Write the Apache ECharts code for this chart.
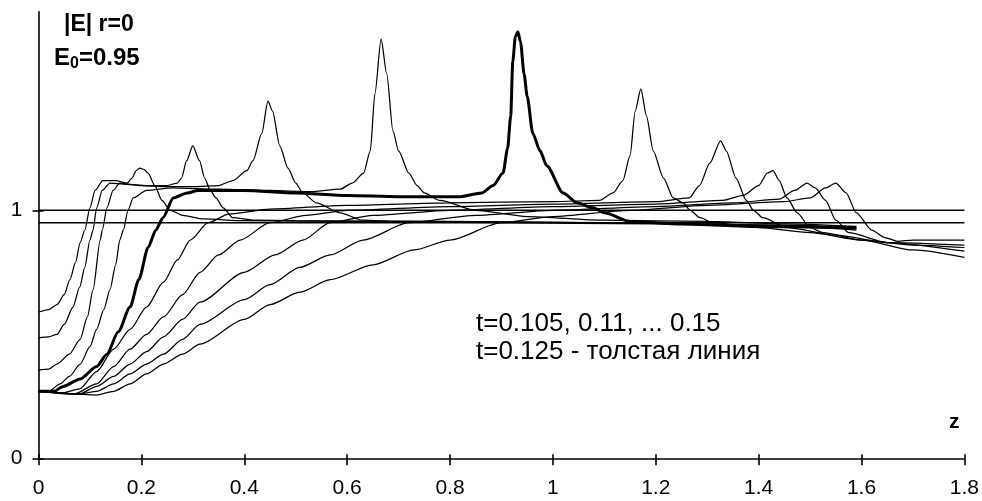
<!DOCTYPE html>
<html>
<head>
<meta charset="utf-8">
<script src="https://cdn.jsdelivr.net/npm/echarts@6/dist/echarts.min.js"></script>
<style>html,body{margin:0;padding:0;background:#fff}#c{width:982px;height:501px}</style>
</head>
<body>
<div id="c"></div>
<script>
// ---- data ----
const xTicks = [0, 0.2, 0.4, 0.6, 0.8, 1, 1.2, 1.4, 1.6, 1.8];
const yTicks = [0, 1];
const tValues = [0.105, 0.11, 0.115, 0.12, 0.125, 0.13, 0.135, 0.14, 0.145, 0.15];
const refLevels = [1, 0.95];

const curveA = [[0,0.59],[0.02,0.60],[0.036,0.62],[0.05,0.66],[0.061,0.72],[0.072,0.79],[0.081,0.87],[0.09,0.92],[0.1,1.01],[0.11,1.08],[0.125,1.12],[0.15,1.12],[0.172,1.11],[0.182,1.13],[0.19,1.16],[0.197,1.17],[0.205,1.165],[0.213,1.15],[0.226,1.10],[0.24,1.04],[0.256,1.0],[0.28,0.98],[0.32,0.965],[0.4,0.958],[0.6,0.955],[0.9,0.95],[1.2,0.945],[1.45,0.935],[1.59,0.92]];
const curveB = [[0,0.486],[0.02,0.49],[0.036,0.50],[0.05,0.54],[0.067,0.61],[0.08,0.69],[0.09,0.77],[0.1,0.88],[0.106,0.92],[0.113,1.01],[0.124,1.08],[0.139,1.11],[0.17,1.105],[0.21,1.10],[0.25,1.10],[0.27,1.11],[0.278,1.13],[0.288,1.20],[0.30,1.26],[0.313,1.20],[0.323,1.13],[0.334,1.08],[0.345,1.05],[0.359,1.01],[0.378,0.97],[0.42,0.96],[0.5,0.958],[0.8,0.955],[1.1,0.95],[1.4,0.94],[1.59,0.925]];
const curveC = [[0,0.356],[0.02,0.36],[0.036,0.38],[0.06,0.42],[0.081,0.48],[0.095,0.57],[0.106,0.68],[0.12,0.88],[0.124,0.92],[0.133,1.01],[0.145,1.08],[0.158,1.11],[0.2,1.10],[0.25,1.095],[0.3,1.095],[0.35,1.10],[0.378,1.12],[0.405,1.16],[0.417,1.20],[0.434,1.31],[0.446,1.44],[0.455,1.40],[0.469,1.26],[0.485,1.17],[0.5,1.11],[0.514,1.07],[0.54,1.03],[0.586,0.99],[0.63,0.96],[0.7,0.955],[0.9,0.953],[1.2,0.948],[1.45,0.94],[1.59,0.93]];
const curveD = [[0,0.27],[0.02,0.27],[0.042,0.30],[0.06,0.33],[0.081,0.38],[0.1,0.45],[0.113,0.52],[0.127,0.60],[0.139,0.68],[0.15,0.78],[0.158,0.88],[0.165,0.92],[0.174,1.0],[0.184,1.05],[0.21,1.08],[0.26,1.09],[0.35,1.085],[0.45,1.08],[0.53,1.075],[0.586,1.085],[0.61,1.11],[0.632,1.15],[0.645,1.24],[0.654,1.47],[0.666,1.69],[0.677,1.55],[0.689,1.32],[0.70,1.24],[0.72,1.15],[0.736,1.10],[0.75,1.07],[0.78,1.04],[0.85,1.0],[0.95,0.975],[1.1,0.96],[1.3,0.955],[1.45,0.945],[1.59,0.935]];
const curveE = [[0,0.27],[0.03,0.27],[0.048,0.29],[0.081,0.32],[0.113,0.37],[0.133,0.42],[0.155,0.51],[0.178,0.61],[0.195,0.72],[0.213,0.85],[0.228,0.92],[0.242,0.97],[0.262,1.05],[0.289,1.07],[0.31,1.08],[0.4,1.08],[0.5,1.07],[0.6,1.06],[0.7,1.055],[0.82,1.055],[0.862,1.07],[0.884,1.10],[0.903,1.15],[0.912,1.25],[0.918,1.38],[0.922,1.60],[0.927,1.70],[0.932,1.72],[0.937,1.68],[0.944,1.55],[0.95,1.46],[0.961,1.31],[0.975,1.24],[0.988,1.18],[1.02,1.07],[1.047,1.03],[1.078,1.01],[1.1,0.99],[1.15,0.955],[1.25,0.945],[1.4,0.935],[1.59,0.93]];
const curveF = [[0,0.27],[0.05,0.265],[0.08,0.28],[0.113,0.35],[0.146,0.44],[0.178,0.52],[0.21,0.61],[0.243,0.71],[0.27,0.80],[0.295,0.88],[0.33,0.95],[0.37,0.985],[0.45,1.005],[0.6,1.02],[0.8,1.03],[1.0,1.035],[1.09,1.04],[1.117,1.07],[1.136,1.12],[1.15,1.22],[1.16,1.40],[1.171,1.49],[1.182,1.38],[1.195,1.24],[1.215,1.13],[1.234,1.05],[1.253,1.03],[1.267,1.0],[1.286,0.97],[1.311,0.95],[1.4,0.93],[1.5,0.91],[1.6,0.88],[1.7,0.84],[1.8,0.81]];
const curveG = [[0,0.27],[0.07,0.26],[0.113,0.30],[0.146,0.37],[0.178,0.44],[0.21,0.50],[0.243,0.57],[0.28,0.66],[0.314,0.75],[0.35,0.82],[0.392,0.88],[0.45,0.95],[0.52,0.98],[0.6,1.0],[0.8,1.015],[1.0,1.025],[1.2,1.035],[1.265,1.05],[1.285,1.10],[1.305,1.19],[1.326,1.28],[1.337,1.24],[1.356,1.13],[1.376,1.04],[1.39,1.0],[1.408,0.97],[1.455,0.93],[1.55,0.90],[1.65,0.87],[1.8,0.835]];
const curveH = [[0,0.27],[0.08,0.26],[0.113,0.29],[0.146,0.33],[0.178,0.38],[0.21,0.43],[0.243,0.49],[0.28,0.56],[0.314,0.63],[0.4,0.75],[0.46,0.82],[0.514,0.88],[0.567,0.95],[0.65,0.98],[0.8,1.0],[1.0,1.015],[1.2,1.025],[1.33,1.04],[1.37,1.06],[1.40,1.10],[1.417,1.15],[1.428,1.16],[1.44,1.12],[1.455,1.05],[1.475,0.99],[1.5,0.93],[1.525,0.91],[1.6,0.88],[1.7,0.86],[1.8,0.85]];
const curveI = [[0,0.27],[0.08,0.26],[0.113,0.27],[0.146,0.30],[0.178,0.34],[0.21,0.38],[0.243,0.42],[0.28,0.48],[0.314,0.54],[0.4,0.64],[0.45,0.70],[0.508,0.77],[0.567,0.82],[0.631,0.88],[0.72,0.95],[0.85,0.98],[1.0,1.0],[1.2,1.015],[1.35,1.03],[1.44,1.045],[1.47,1.08],[1.494,1.11],[1.51,1.09],[1.53,1.04],[1.55,0.96],[1.575,0.91],[1.65,0.87],[1.8,0.86]];
const curveJ = [[0,0.27],[0.06,0.26],[0.113,0.255],[0.146,0.27],[0.178,0.30],[0.21,0.34],[0.243,0.38],[0.28,0.42],[0.314,0.46],[0.4,0.56],[0.45,0.62],[0.508,0.67],[0.567,0.72],[0.65,0.78],[0.73,0.84],[0.80,0.88],[0.9,0.95],[1.0,0.975],[1.15,1.0],[1.3,1.02],[1.45,1.035],[1.5,1.05],[1.53,1.09],[1.55,1.11],[1.57,1.07],[1.59,0.99],[1.62,0.92],[1.645,0.89],[1.67,0.875],[1.7,0.88],[1.8,0.88]];

const curves = [curveA, curveB, curveC, curveD, curveE, curveF, curveG, curveH, curveI, curveJ];
const thickT = 0.125;

// ---- chart ----
const FONT = '"Liberation Sans", Arial, sans-serif';
const chart = echarts.init(document.getElementById('c'), null, {renderer: 'canvas'});

const series = curves.map((d, i) => ({
  type: 'line',
  name: 't=' + tValues[i],
  data: d,
  showSymbol: false,
  smooth: 0.25,
  smoothMonotone: 'x',
  lineStyle: {color: '#000', width: tValues[i] === thickT ? 3 : 1.25},
  z: tValues[i] === thickT ? 5 : 3,
  silent: true
}));
refLevels.forEach(v => {
  series.push({
    type: 'line',
    data: [[xTicks[0], v], [xTicks[xTicks.length - 1], v]],
    showSymbol: false,
    lineStyle: {color: '#000', width: 1.6},
    z: 4,
    silent: true
  });
});

const grid = {left: 38.5, right: 17.5, top: 11.9, bottom: 42.7};

chart.setOption({
  animation: false,
  backgroundColor: '#fff',
  grid: grid,
  xAxis: [{
    type: 'value', min: 0, max: 1.8, interval: 0.2,
    axisLine: {lineStyle: {color: '#000', width: 1.6}},
    axisTick: {length: 7, lineStyle: {color: '#000', width: 1.6}},
    axisLabel: {color: '#000', fontSize: 21, fontFamily: FONT, margin: 19},
    splitLine: {show: false}
  }, {
    type: 'value', min: 0, max: 1.8, interval: 0.2, position: 'bottom', offset: 0,
    axisLine: {show: false},
    axisTick: {inside: true, length: 4, lineStyle: {color: '#000', width: 1.6}},
    axisLabel: {show: false},
    splitLine: {show: false}
  }],
  yAxis: [{
    type: 'value', min: 0, max: 1.8,
    axisLine: {show: true, lineStyle: {color: '#000', width: 1.6}},
    axisTick: {show: true, length: 6, customValues: yTicks, lineStyle: {color: '#000', width: 1.6}},
    axisLabel: {color: '#000', fontSize: 21, fontFamily: FONT, margin: 16, customValues: yTicks},
    splitLine: {show: false}
  }, {
    type: 'value', min: 0, max: 1.8, position: 'left', offset: 0,
    axisLine: {show: false},
    axisTick: {show: true, inside: true, length: 5, customValues: yTicks, lineStyle: {color: '#000', width: 1.6}},
    axisLabel: {show: false},
    splitLine: {show: false}
  }],
  series: series,
  graphic: [
    {type: 'text', left: 64, top: 13, style: {text: '|E| r=0', font: 'bold 23px ' + FONT, fill: '#000'}},
    {type: 'text', left: 54, top: 46, style: {
      text: '{a|E}{s|0}{a|=0.95}',
      rich: {
        a: {font: 'bold 24px ' + FONT, fill: '#000'},
        s: {font: 'bold 16px ' + FONT, fill: '#000', padding: [12, 0, 0, 0]}
      }
    }},
    {type: 'text', left: 476, top: 311, style: {text: 't=0.105, 0.11, ... 0.15', font: '26px ' + FONT, fill: '#000'}},
    {type: 'text', left: 476, top: 339, style: {text: 't=0.125 - толстая линия', font: '26px ' + FONT, fill: '#000'}},
    {type: 'text', left: 949, top: 412, style: {text: 'z', font: 'bold 21px ' + FONT, fill: '#000'}}
  ]
});
</script>
</body>
</html>
